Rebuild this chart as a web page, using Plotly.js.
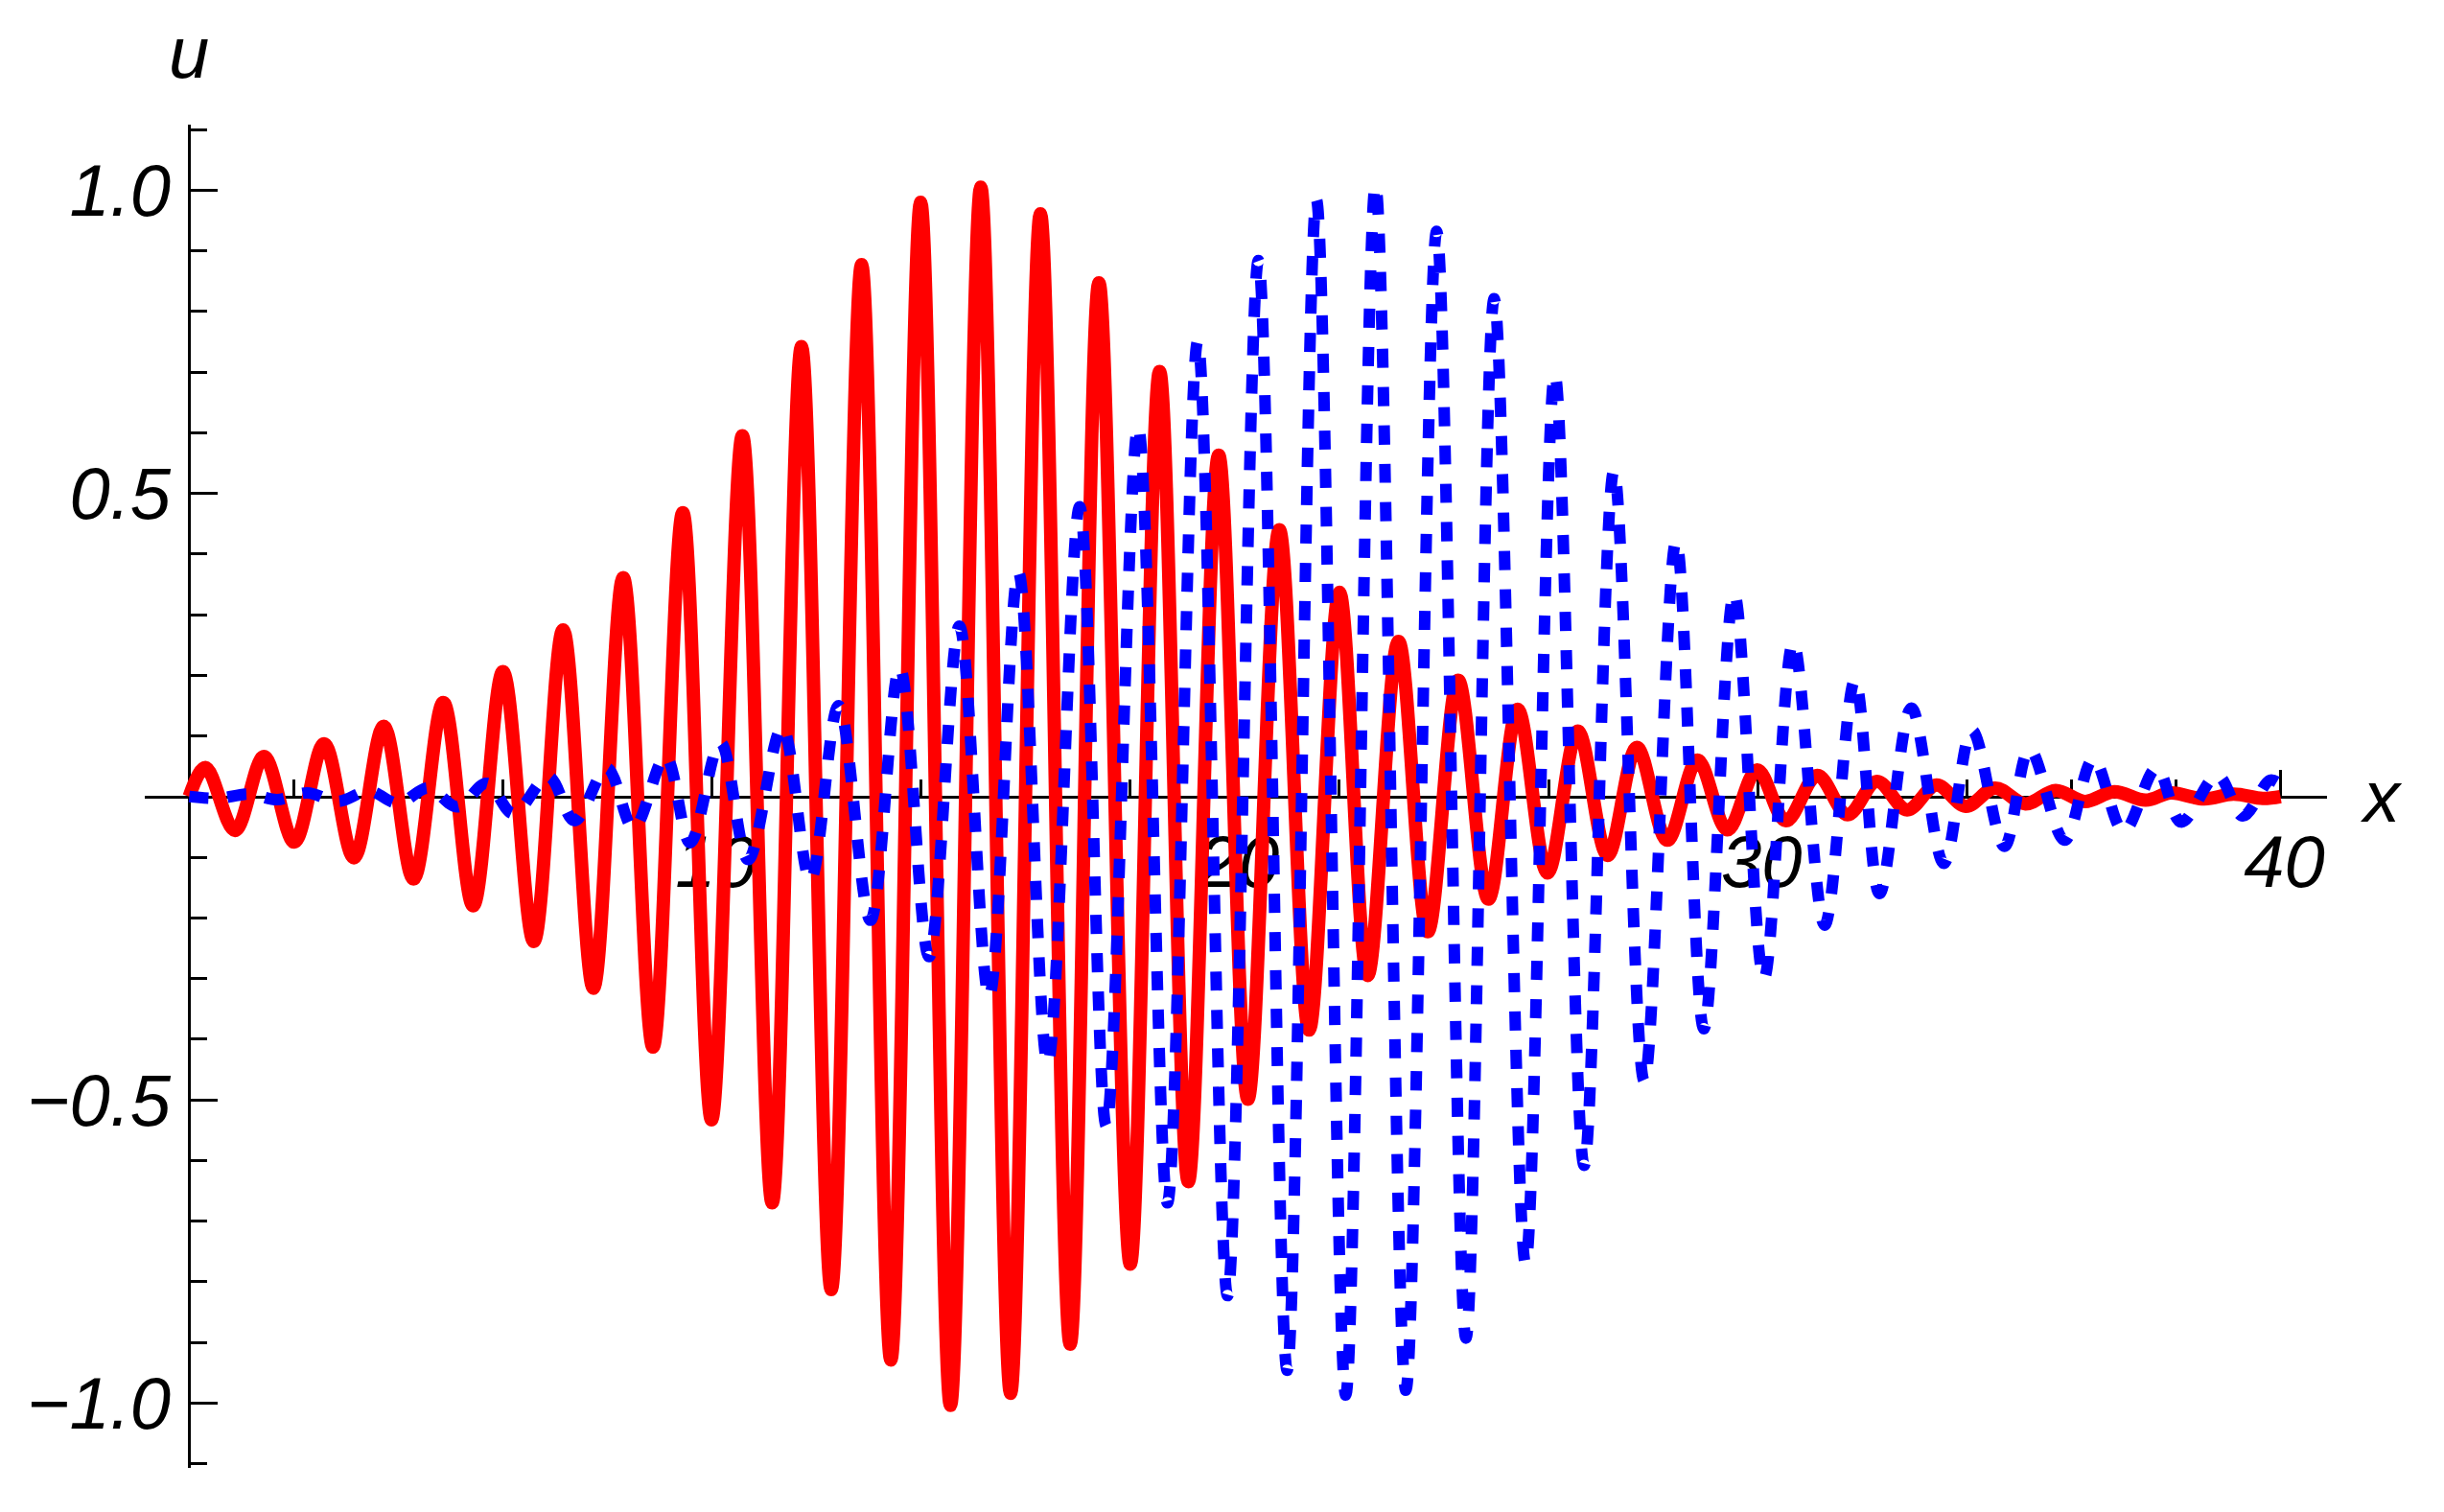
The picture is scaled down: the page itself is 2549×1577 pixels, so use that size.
<!DOCTYPE html>
<html>
<head>
<meta charset="utf-8">
<script src="https://cdn.plot.ly/plotly-3.0.1.min.js"></script>
<style>
  html, body { margin: 0; padding: 0; background: #fff; }
  #grafica { width: 2549px; height: 1577px; }
</style>
</head>
<body>
<div id="grafica"></div>
<script>
// onda roja (continua): maximos y minimos
const redX = [0, 0.31, 0.875, 1.43, 2.01, 2.58, 3.15, 3.72, 4.29, 4.86, 5.43, 6.00, 6.59, 7.15, 7.73,
    8.30, 8.87, 9.44, 9.99, 10.58, 11.15, 11.71, 12.28, 12.86, 13.42, 13.99, 14.56, 15.14, 15.71,
    16.28, 16.85, 17.40, 18.0, 18.56, 19.11, 19.69, 20.25, 20.85, 21.42, 22.0, 22.54, 23.13, 23.69,
    24.27, 24.85, 25.41, 25.98, 26.56, 27.13, 27.69, 28.27, 28.85, 29.42, 29.99, 30.54, 31.14, 31.72,
    32.28, 32.86, 33.42, 33.98, 34.54, 35.12, 35.7, 36.26, 36.82, 37.42, 37.9, 38.54, 39.1, 39.66, 40];
const redU = [0, 0.048, -0.056, 0.066, -0.075, 0.087, -0.101, 0.116, -0.136, 0.155, -0.180, 0.206, -0.239,
    0.275, -0.316, 0.361, -0.413, 0.468, -0.533, 0.595, -0.670, 0.742, -0.813, 0.877, -0.929, 0.980,
    -1.004, 1.005, -0.984, 0.961, -0.903, 0.847, -0.771, 0.701, -0.635, 0.563, -0.499, 0.440, -0.385,
    0.337, -0.295, 0.256, -0.223, 0.192, -0.169, 0.144, -0.126, 0.108, -0.097, 0.081, -0.072, 0.060,
    -0.055, 0.044, -0.040, 0.035, -0.030, 0.025, -0.022, 0.019, -0.016, 0.014, -0.012, 0.010, -0.008,
    0.008, -0.006, 0.006, -0.004, 0.004, -0.003, 0];

// onda azul (punteada)
const blueX = [0, 0.55, 1.15, 1.68, 2.26, 2.85, 3.44, 4.0, 4.57, 5.13, 5.69, 6.2, 6.87, 7.37, 7.99, 8.5,
    9.11, 9.58, 10.16, 10.69, 11.34, 11.88, 12.42, 13.03, 13.59, 14.15, 14.73, 15.30, 15.86, 16.42,
    17.03, 17.54, 18.15, 18.71, 19.29, 19.86, 20.45, 21.0, 21.56, 22.12, 22.69, 23.27, 23.86, 24.42,
    24.96, 25.56, 26.12, 26.68, 27.25, 27.83, 28.44, 28.97, 29.55, 30.12, 30.68, 31.28, 31.86, 32.33,
    32.94, 33.56, 34.1, 34.72, 35.2, 35.87, 36.42, 37.0, 37.63, 38.1, 38.79, 39.28, 39.8, 40];
const blueU = [0, -0.003, 0.004, -0.005, 0.006, -0.008, 0.009, -0.011, 0.014, -0.017, 0.022, -0.028,
    0.033, -0.040, 0.047, -0.052, 0.066, -0.076, 0.089, -0.104, 0.114, -0.138, 0.150, -0.204, 0.213,
    -0.264, 0.281, -0.330, 0.370, -0.440, 0.478, -0.543, 0.610, -0.670, 0.751, -0.823, 0.884, -0.946,
    0.984, -0.987, 1.008, -0.979, 0.932, -0.893, 0.821, -0.770, 0.696, -0.608, 0.537, -0.469, 0.421,
    -0.383, 0.335, -0.300, 0.254, -0.212, 0.192, -0.160, 0.146, -0.110, 0.109, -0.082, 0.078, -0.072,
    0.062, -0.057, 0.047, -0.042, 0.035, -0.032, 0.027, 0.020];

// marcas de los ejes
const xTicks = [10, 20, 30, 40];
const xTickText = ['10', '20', '30', '40'];
const uTicks = [-1.0, -0.5, 0.5, 1.0];
const uTickText = ['\u22121.0', '\u22120.5', '0.5', '1.0'];

const xRange = [-0.85, 40.89];
const uRange = [-1.107, 1.108];

// los ejes se cruzan en el origen (estilo Mathematica)
const posEjeY = (0 - xRange[0]) / (xRange[1] - xRange[0]);
const posEjeX = (0 - uRange[0]) / (uRange[1] - uRange[0]);

const fuente = { family: 'Liberation Sans, Arial, sans-serif', size: 76, color: '#000', style: 'italic' };

const trazas = [
    {
        x: redX, y: redU, type: 'scatter', mode: 'lines',
        line: { color: '#ff0000', width: 14, shape: 'spline', smoothing: 1 },
        hoverinfo: 'skip'
    },
    {
        x: blueX, y: blueU, type: 'scatter', mode: 'lines',
        line: { color: '#0000ff', width: 12, shape: 'spline', smoothing: 1, dash: '20px,20px' },
        hoverinfo: 'skip'
    }
];

const layout = {
    width: 2549,
    height: 1577,
    margin: { l: 151, r: 122, t: 130, b: 46 },
    paper_bgcolor: '#fff',
    plot_bgcolor: '#fff',
    showlegend: false,
    font: fuente,
    xaxis: {
        range: xRange,
        anchor: 'free',
        position: posEjeX,
        showgrid: false,
        zeroline: false,
        showline: true,
        linecolor: '#000',
        linewidth: 3,
        tickmode: 'array',
        tickvals: xTicks,
        ticktext: xTickText,
        ticks: 'inside',
        ticklen: 27,
        tickwidth: 3,
        tickcolor: '#000',
        tickfont: fuente,
        ticklabelstandoff: 1,
        ticklabelshift: 4,
        minor: { tickmode: 'linear', tick0: 0, dtick: 2, ticks: 'inside', ticklen: 17, tickwidth: 3, tickcolor: '#000' },
        layer: 'below traces'
    },
    yaxis: {
        range: uRange,
        anchor: 'free',
        position: posEjeY,
        showgrid: false,
        zeroline: false,
        showline: true,
        linecolor: '#000',
        linewidth: 3,
        tickmode: 'array',
        tickvals: uTicks,
        ticktext: uTickText,
        ticks: 'inside',
        ticklen: 28,
        tickwidth: 3,
        tickcolor: '#000',
        tickfont: fuente,
        ticklabelstandoff: 3,
        minor: { tickmode: 'linear', tick0: 0, dtick: 0.1, ticks: 'inside', ticklen: 17, tickwidth: 3, tickcolor: '#000' },
        layer: 'below traces'
    },
    annotations: [
        { text: 'u', xref: 'x', x: 0, yref: 'paper', y: 1, xanchor: 'center', yanchor: 'middle',
          yshift: 76, showarrow: false, font: fuente },
        { text: 'x', xref: 'paper', x: 1, yref: 'y', y: 0, xanchor: 'left', yanchor: 'middle',
          xshift: 32, showarrow: false, font: fuente }
    ]
};

Plotly.newPlot('grafica', trazas, layout, { staticPlot: true, displayModeBar: false });
</script>
</body>
</html>
